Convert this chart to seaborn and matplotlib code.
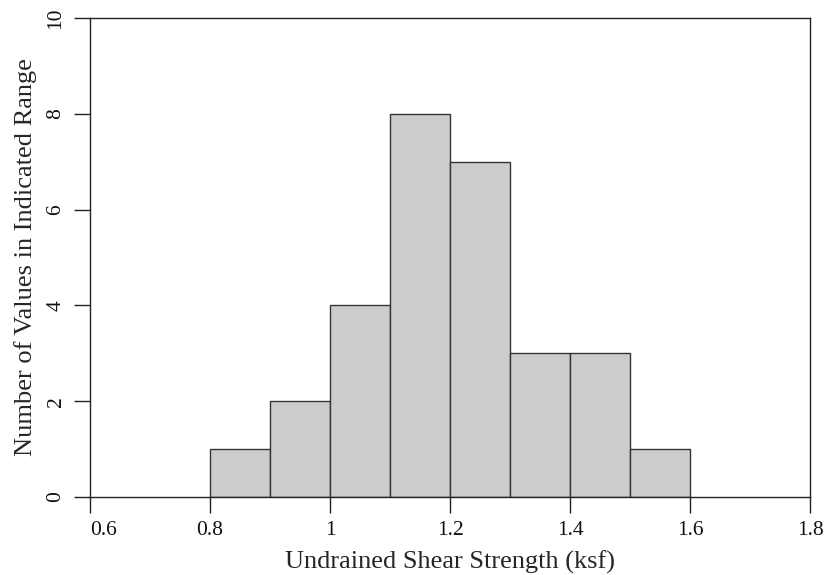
import matplotlib
matplotlib.use("Agg")
import matplotlib.pyplot as plt
import seaborn as sns
import numpy as np

# Histogram of undrained shear strength: bin edges and counts per bin
bin_edges = [0.8, 0.9, 1.0, 1.1, 1.2, 1.3, 1.4, 1.5, 1.6]
bin_counts = [1, 2, 4, 8, 7, 3, 3, 1]
x_ticks = [0.6, 0.8, 1.0, 1.2, 1.4, 1.6, 1.8]
x_tick_labels = ["0.6", "0.8", "1", "1.2", "1.4", "1.6", "1.8"]
y_ticks = [0, 2, 4, 6, 8, 10]

sns.set_style("white")
plt.rcParams["font.family"] = ["Liberation Serif", "DejaVu Serif"]

fig = plt.figure(figsize=(8.25, 5.75), dpi=100)
ax = fig.add_axes([0.109, 0.1357, 0.873, 0.833])

centers = [(a + b) / 2 for a, b in zip(bin_edges[:-1], bin_edges[1:])]
sns.histplot(x=centers, weights=bin_counts, bins=bin_edges, ax=ax,
             color="#cccccc", edgecolor="#333333", linewidth=1.0, alpha=1.0)

ax.set_xlim(0.6, 1.8)
ax.set_ylim(0, 10)
ax.set_xticks(x_ticks)
ax.set_xticklabels(x_tick_labels)
ax.set_yticks(y_ticks)
ax.set_yticklabels([str(v) for v in y_ticks], rotation=90, va="center")
# first x label sits just right of its tick so it stays inside the figure
ax.get_xticklabels()[0].set_ha("left")

for s in ax.spines.values():
    s.set_visible(True)
    s.set_color("#222222")
    s.set_linewidth(1.0)

ax.tick_params(axis="both", direction="out", length=11.5, width=1.0,
               color="#222222", labelsize=15.5, labelcolor="#111111")
ax.tick_params(axis="x", pad=6, bottom=True)
ax.tick_params(axis="y", pad=6, left=True)

ax.set_xlabel("Undrained Shear Strength (ksf)", fontsize=19)
ax.set_ylabel("Number of Values in Indicated Range", fontsize=19)
ax.xaxis.set_label_coords(0.5, -0.1125)
ax.yaxis.set_label_coords(-0.074, 0.5)

fig.savefig("out.png", dpi=100)
